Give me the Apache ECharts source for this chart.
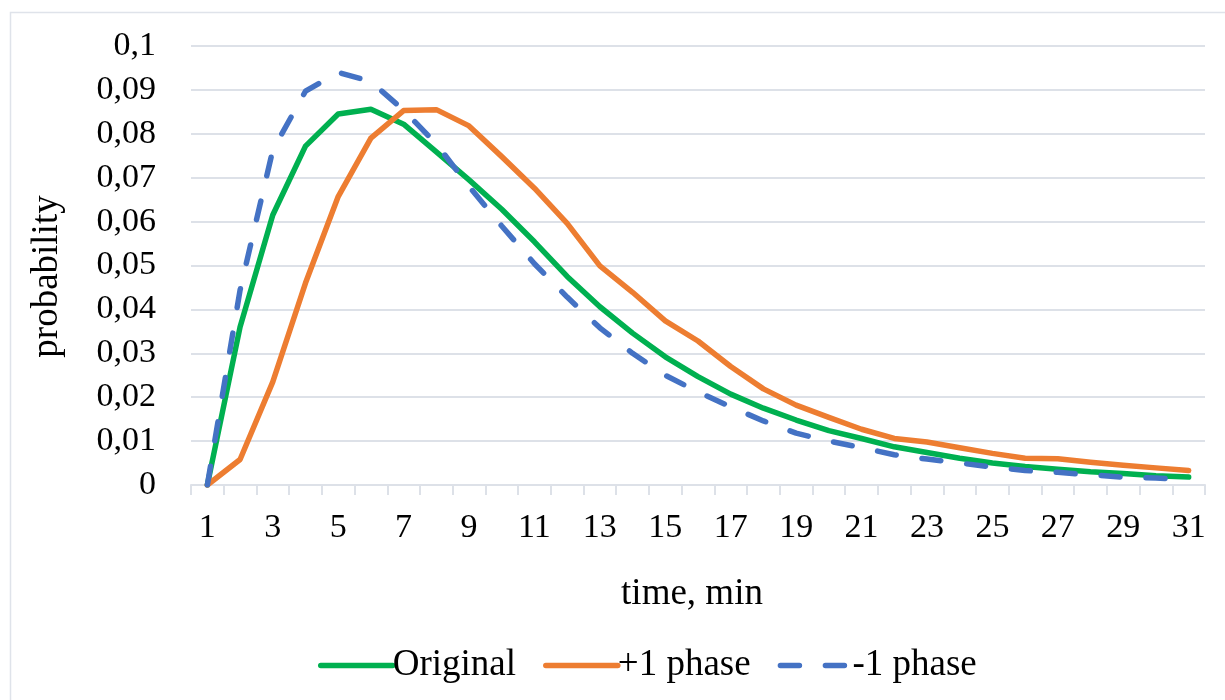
<!DOCTYPE html>
<html>
<head>
<meta charset="utf-8">
<script src="https://cdn.jsdelivr.net/npm/echarts@6/dist/echarts.min.js"></script>
<style>
html,body{margin:0;padding:0;background:#fff;}
#chart{width:1225px;height:700px;}
</style>
</head>
<body>
<div id="chart"></div>
<script>
const timeLabels = ['1','2','3','4','5','6','7','8','9','10','11','12','13','14','15','16','17','18','19','20','21','22','23','24','25','26','27','28','29','30','31'];
const original = [0, 0.036, 0.0615, 0.0772, 0.0845, 0.0856, 0.0822, 0.0759, 0.0695, 0.0628, 0.0554, 0.0475, 0.0406, 0.0346, 0.0292, 0.0247, 0.0207, 0.0175, 0.0148, 0.0124, 0.0106, 0.0087, 0.0074, 0.0061, 0.005, 0.0042, 0.0036, 0.003, 0.0026, 0.0021, 0.0018];
const plusOnePhase = [0, 0.0058, 0.0235, 0.046, 0.0657, 0.079, 0.0853, 0.0855, 0.0818, 0.0748, 0.0676, 0.0596, 0.0499, 0.0439, 0.0374, 0.0328, 0.027, 0.0219, 0.0182, 0.0154, 0.0127, 0.0106, 0.0098, 0.0085, 0.0072, 0.0061, 0.006, 0.0052, 0.0045, 0.0039, 0.0033];
const minusOnePhase = [0, 0.0444, 0.0763, 0.0897, 0.094, 0.0919, 0.0854, 0.0777, 0.068, 0.059, 0.0504, 0.0428, 0.0358, 0.030, 0.025, 0.0212, 0.0178, 0.0146, 0.0118, 0.010, 0.0085, 0.0069, 0.0059, 0.005, 0.0041, 0.0033, 0.0029, 0.0023, 0.0018, 0.0016, 0.0012];
const seriesNames = ['Original', '+1 phase', '-1 phase'];
const xTitle = 'time, min';
const yTitle = 'probability';

const FONT = '"Liberation Serif", "Times New Roman", serif';
const chart = echarts.init(document.getElementById('chart'), null, {renderer: 'canvas'});
const gridColor = '#dde1e8';
const LW = 5.5;

chart.setOption({
  animation: false,
  backgroundColor: '#ffffff',
  graphic: [{
    type: 'rect',
    shape: {x: 10.5, y: 12.5, width: 1400, height: 900},
    style: {fill: 'none', stroke: '#dfe3ea', lineWidth: 1.5},
    silent: true,
    z: -10
  }],
  grid: {left: 191, right: 20, top: 46, bottom: 215, containLabel: false},
  legend: {
    top: 642,
    left: 313,
    itemWidth: 72,
    itemHeight: 14,
    itemGap: 27,
    itemStyle: {opacity: 0},
    lineStyle: {width: LW, cap: 'round'},
    textStyle: {fontFamily: FONT, fontSize: 37, color: '#000', padding: [0, 0, 0, -5]},
    data: seriesNames
  },
  xAxis: {
    type: 'category',
    data: timeLabels,
    boundaryGap: true,
    name: xTitle,
    nameLocation: 'middle',
    nameGap: 91,
    nameTextStyle: {fontFamily: FONT, fontSize: 37, color: '#000', padding: [0, 12, 0, 0]},
    axisLine: {lineStyle: {color: gridColor, width: 2}},
    axisTick: {show: true, interval: 0, length: 10, lineStyle: {color: gridColor, width: 2}},
    axisLabel: {interval: 1, margin: 26, fontFamily: FONT, fontSize: 34, color: '#000'},
    splitLine: {show: false}
  },
  yAxis: {
    type: 'value',
    min: 0,
    max: 0.1,
    interval: 0.01,
    name: yTitle,
    nameLocation: 'middle',
    nameGap: 125,
    nameTextStyle: {fontFamily: FONT, fontSize: 37, color: '#000', padding: [0, 22, 0, 0]},
    axisLine: {show: false},
    axisTick: {show: false},
    axisLabel: {
      margin: 35, fontFamily: FONT, fontSize: 34, color: '#000',
      formatter: function (v) { return String(+v.toFixed(2)).replace('.', ','); }
    },
    splitLine: {lineStyle: {color: gridColor, width: 2}}
  },
  series: [
    {
      name: seriesNames[0], type: 'line', data: original, symbol: 'none', smooth: false,
      lineStyle: {color: '#00B050', width: LW, cap: 'round', join: 'round'},
      itemStyle: {color: '#00B050'}
    },
    {
      name: seriesNames[1], type: 'line', data: plusOnePhase, symbol: 'none', smooth: false,
      lineStyle: {color: '#ED7D31', width: LW, cap: 'round', join: 'round'},
      itemStyle: {color: '#ED7D31'}
    },
    {
      name: seriesNames[2], type: 'line', data: minusOnePhase, symbol: 'none', smooth: false,
      lineStyle: {color: '#4472C4', width: LW, type: [19, 26], cap: 'round', join: 'round'},
      itemStyle: {color: '#4472C4'}
    }
  ]
});
</script>
</body>
</html>
